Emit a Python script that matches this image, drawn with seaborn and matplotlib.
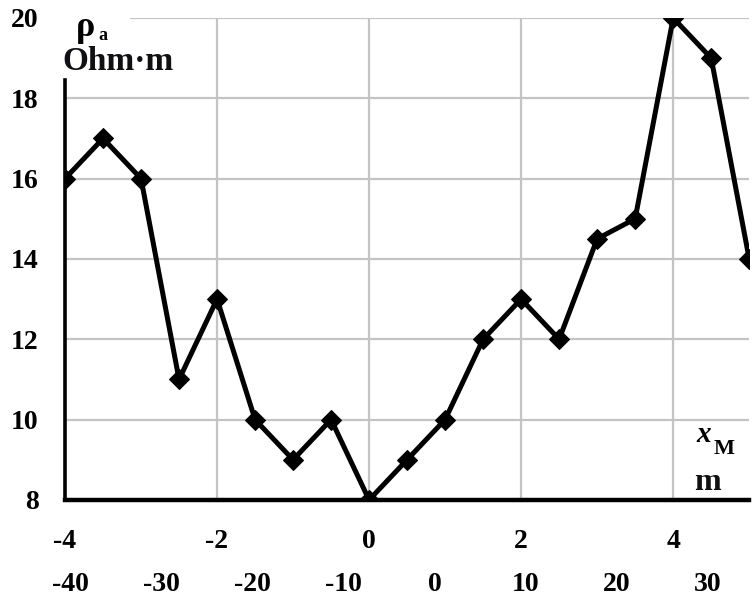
import matplotlib
matplotlib.use("Agg")
import matplotlib.pyplot as plt
import seaborn as sns
import pandas as pd
from matplotlib.patches import Rectangle

# Profile position (top scale) and apparent resistivity
x_pos = [-4, -3.5, -3, -2.5, -2, -1.5, -1, -0.5, 0, 0.5, 1, 1.5, 2, 2.5, 3, 3.5, 4, 4.5, 5]
rho_a = [16, 17, 16, 11, 13, 10, 9, 10, 8, 9, 10, 12, 13, 12, 14.5, 15, 20, 19, 14]

x_ticks = [-4, -2, 0, 2, 4]
y_ticks = [8, 10, 12, 14, 16, 18, 20]

# Second scale along the profile: x_M in metres
xm_ticks = [-40, -30, -20, -10, 0, 10, 20, 30]
xm_origin = -3.93   # position on the top scale where x_M = -40
xm_per_unit = 8.35  # metres of x_M per unit of the top scale

df = pd.DataFrame({"x": x_pos, "rho": rho_a})

sns.set_style("white")
plt.rcParams["font.family"] = ["Liberation Serif", "DejaVu Serif"]
plt.rcParams["font.weight"] = "bold"

fig = plt.figure(figsize=(7.56, 5.98), dpi=100)
ax = fig.add_axes([0.086, 0.164, 0.905, 0.806])

sns.lineplot(data=df, x="x", y="rho", ax=ax, color="black", linewidth=3.6,
             marker="D", markersize=10, markeredgecolor="black", zorder=5)

ax.set_xlim(-4, 5)
ax.set_ylim(8, 20)
ax.set_xticks(x_ticks)
ax.set_yticks(y_ticks)
ax.set_xticklabels([str(v) for v in x_ticks])
ax.set_yticklabels([str(v) for v in y_ticks])
ax.set_xlabel("")
ax.set_ylabel("")

ax.grid(True, color="#c4c4c4", linewidth=1.6)
ax.set_axisbelow(True)

for side in ("top", "right"):
    ax.spines[side].set_visible(False)
ax.spines["left"].set_linewidth(2.6)
ax.spines["bottom"].set_linewidth(3.2)
ax.spines["left"].set_color("black")
ax.spines["bottom"].set_color("black")
ax.spines["left"].set_bounds(8, 18.45)

ax.tick_params(axis="y", direction="out", length=6, width=2.4, pad=13,
               labelsize=20, colors="black")
ax.tick_params(axis="x", direction="out", length=5, width=2.4, pad=16,
               labelsize=20, colors="black")
for lbl in ax.get_xticklabels() + ax.get_yticklabels():
    lbl.set_fontweight("bold")

# White patch behind the quantity label at the top left
ax.add_patch(Rectangle((-4.3, 18.45), 1.16, 2.2, facecolor="white",
                       edgecolor="none", zorder=1.5, clip_on=False))

# Second scale below the first one
sec = ax.secondary_xaxis(
    0,
    functions=(lambda x: xm_ticks[0] + (x - xm_origin) * xm_per_unit,
               lambda m: xm_origin + (m - xm_ticks[0]) / xm_per_unit))
sec.set_xticks(xm_ticks)
sec.set_xticklabels([str(v) for v in xm_ticks])
sec.spines["bottom"].set_visible(False)
sec.tick_params(axis="x", length=0, pad=52, labelsize=20, colors="black")
for lbl in sec.get_xticklabels():
    lbl.set_fontweight("bold")

# Axis captions
fig.text(76 / 756, 1 - 27 / 598, "ρ", fontsize=26, fontweight="bold",
         ha="left", va="center", color="black")
fig.text(98 / 756, 1 - 36 / 598, "a", fontsize=13, fontweight="bold",
         ha="left", va="center", color="black")
fig.text(62 / 756, 1 - 62 / 598, "Ohm·m", fontsize=24, fontweight="bold",
         ha="left", va="center", color="#101014")

fig.text(696 / 756, 1 - 434 / 598, "x", fontsize=21, fontstyle="italic",
         fontweight="bold", ha="left", va="center", color="black")
fig.text(714 / 756, 1 - 449 / 598, "M", fontsize=16, fontweight="bold",
         ha="left", va="center", color="black")
fig.text(694 / 756, 1 - 482 / 598, "m", fontsize=23, fontweight="bold",
         ha="left", va="center", color="#101014")

fig.savefig("out.png", dpi=100, facecolor="white")
